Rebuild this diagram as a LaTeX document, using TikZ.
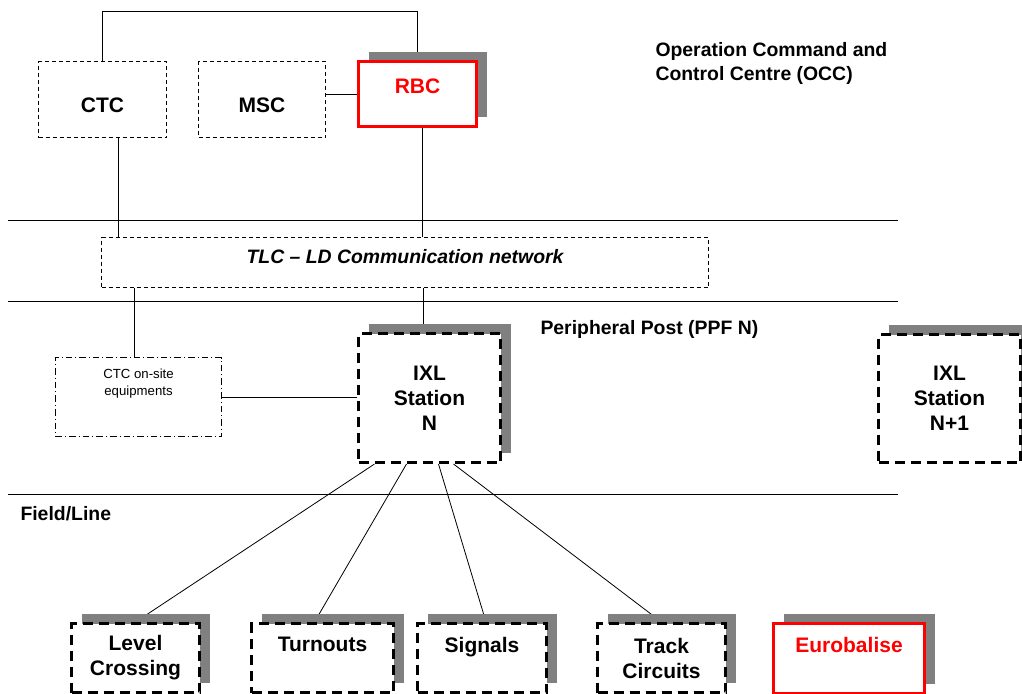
\documentclass[tikz,border=0pt]{standalone}
\usepackage{fontspec}
\setmainfont{Liberation Sans}
\usetikzlibrary{positioning,shadows,backgrounds}
\definecolor{rbcred}{HTML}{FF0000}
\definecolor{shadowgray}{HTML}{808080}

\begin{document}
\begin{tikzpicture}[x=0.5pt,y=-0.5pt,line width=0.5pt,
  box/.style={draw,anchor=north west,fill=white,inner sep=0pt,align=center,font=\fontsize{10.5}{12.5}\selectfont\bfseries},
  dbox/.style={box,line width=0.5pt,dash pattern=on 2pt off 1.5pt},
  sitebox/.style={box,line width=0.5pt,dash pattern=on 3.3pt off 1.5pt on 0.5pt off 1.5pt,font=\fontsize{6.6}{8.5}\selectfont},
  shadowed/.style={drop shadow={shadow xshift=5pt,shadow yshift=5pt,opacity=1,fill=shadowgray}},
  eqbox/.style={box,shadowed,line width=1.5pt,dash pattern=on 5pt off 3pt},
  redbox/.style={box,shadowed,draw=rbcred,text=rbcred,line width=1.5pt},
  lbl/.style={inner sep=0pt,align=left,font=\fontsize{9.7}{12}\selectfont\bfseries}
]
  \useasboundingbox (0,0) rectangle (1022,693);

  % OCC
  \node[dbox,minimum width=64pt,minimum height=38pt,text height=13.5pt] (ctc) at (38,61) {CTC};
  \node[dbox,minimum width=63.5pt,minimum height=38pt,text height=13.5pt] (msc) at (198,61) {MSC};
  \node[redbox,minimum width=59pt,minimum height=32.5pt,text depth=7.5pt] (rbc) at (357,60) {RBC};
  \node[lbl,anchor=north west] (occ) at (655,42) {Operation Command and\\Control Centre (OCC)};

  % network
  \node[dbox,minimum width=303.5pt,minimum height=25pt,text depth=6pt,font=\fontsize{9.7}{12}\selectfont\bfseries\itshape] (tlc) at (101,237) {TLC -- LD Communication network};

  % peripheral post
  \node[sitebox,minimum width=83pt,minimum height=39.5pt,text depth=15pt] (ctcsite) at (55,357) {CTC on-site\\equipments};
  \node[eqbox,minimum width=71pt,minimum height=64.5pt] (ixl) at (357,332) {IXL\\Station\\N};
  \node[eqbox,minimum width=71pt,minimum height=64pt] (ixlnext) at (877,333) {IXL\\Station\\N+1};
  \node[lbl,anchor=base west] (ppf) at (540,334) {Peripheral Post (PPF N)};

  % field
  \node[lbl,anchor=base west] (field) at (20,520) {Field/Line};
  \node[eqbox,minimum width=64pt,minimum height=34.5pt] (lc) at (70,622) {Level\\Crossing};
  \node[eqbox,minimum width=71pt,minimum height=34.5pt,text depth=13.5pt] (turn) at (250,622) {Turnouts};
  \node[eqbox,minimum width=64.5pt,minimum height=34.5pt,text depth=13.5pt] (sig) at (416,622) {Signals};
  \node[eqbox,minimum width=64pt,minimum height=34.5pt] (tc) at (596,622) {Track\\Circuits};
  \node[redbox,minimum width=75.5pt,minimum height=35pt,text depth=13.5pt] (euro) at (772,622) {Eurobalise};

  \coordinate (ctcdown) at ([xshift=8pt]ctc.south);
  \coordinate (rbcdown) at ([xshift=2.5pt]rbc.south);
  \coordinate (siteup) at ([xshift=-2pt]ctcsite.north);
  \coordinate (ixlup) at ([xshift=-3pt]ixl.north);

  \begin{scope}[on background layer]
    \draw (8,220) -- (898,220);
    \draw (8,301) -- (898,301);
    \draw (8,494) -- (898,494);
    \draw (ctc.north) -- ++(0,-50) -| (rbc.north);
    \draw (rbc.west) -- (rbc.west -| msc.east);
    \draw (ctcdown) -- (ctcdown |- tlc.north);
    \draw (rbcdown) -- (rbcdown |- tlc.north);
    \draw (siteup) -- (siteup |- tlc.south);
    \draw (ixlup) -- (ixlup |- tlc.south);
    \draw (ctcsite.east) -- (ctcsite.east -| ixl.west);
    \draw ([xshift=-27.5pt]ixl.south) -- (lc.north);
    \draw ([xshift=-11.5pt]ixl.south) -- ([xshift=-4pt]turn.north);
    \draw ([xshift=4.5pt]ixl.south) -- ([xshift=2pt]sig.north);
    \draw ([xshift=12pt]ixl.south) -- (tc.north);
  \end{scope}
\end{tikzpicture}
\end{document}
